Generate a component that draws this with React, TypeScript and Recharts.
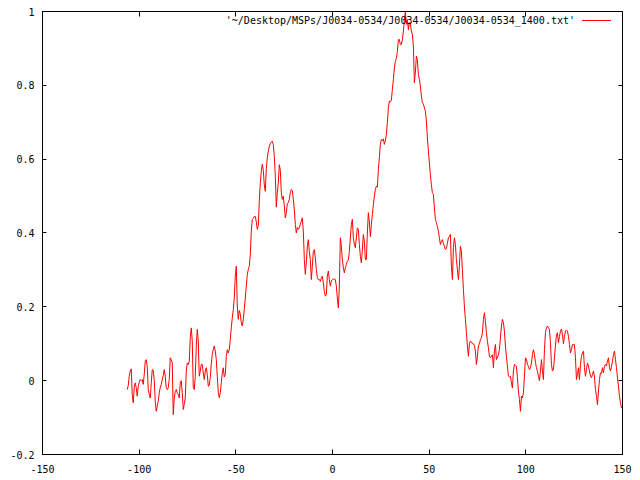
import React from 'react';
import { LineChart, Line, XAxis, YAxis, ReferenceLine } from 'recharts';

// tick values
const xTicks = [-150, -100, -50, 0, 50, 100, 150];
const yTicks = [-0.2, 0, 0.2, 0.4, 0.6, 0.8, 1];
const xDomain = [-150, 150];
const yDomain = [-0.2, 1];
const seriesName = "'~/Desktop/MSPs/J0034-0534/J0034-0534/J0034-0534_1400.txt'";
const seriesColor = '#ff0000';

// phase bin grid of the profile
const binStart = -106.17;
const binWidth = 0.5175;

// profile intensity, read left to right
const seg1 = [
  -0.024, -0.013, 0.012, 0.026, 0.032, -0.037, -0.06, -0.019, -0.006, -0.019,
  -0.042, -0.015, -0.004, 0.003, 0.0, 0.003, -0.01, 0.017, 0.053, 0.057,
  0.039, -0.024, -0.037, -0.047, -0.006, 0.03, 0.028, 0.0, -0.056, -0.083,
  -0.069, -0.056, -0.033, -0.019, -0.01, 0.003, 0.014, 0.03, 0.012, -0.019,
  -0.024, -0.019, 0.003, 0.062, 0.057, 0.048, -0.092, -0.047, -0.029, -0.024,
  -0.033, -0.037, -0.047, -0.006, 0.0, -0.033, -0.078, -0.064, -0.047, 0.026,
  0.048, 0.044, 0.053, 0.116, 0.143, 0.107, -0.019, -0.024, 0.012, 0.094,
  0.139, 0.107, 0.012, 0.026, 0.044, 0.044, 0.021, 0.003, 0.026, 0.035,
  0.017, -0.015, -0.013,
];
const seg2 = [
  0.009, 0.044, 0.071, 0.084, 0.094, 0.08, 0.057, 0.012, -0.033, -0.046,
  -0.033, -0.006, 0.021, 0.035, 0.01, 0.016, 0.066, 0.084, 0.075, 0.084,
  0.111, 0.143, 0.17, 0.193, 0.224, 0.283, 0.31, 0.202, 0.166, 0.19,
  0.18, 0.157, 0.148, 0.166, 0.193, 0.224, 0.256, 0.288, 0.301, 0.31,
  0.342, 0.405, 0.437, 0.44, 0.445, 0.445, 0.43, 0.41, 0.42, 0.486,
  0.536, 0.567, 0.586, 0.57, 0.53, 0.513, 0.575, 0.604, 0.622, 0.635,
  0.642, 0.646, 0.649, 0.64, 0.608, 0.554, 0.47,
];
const seg3 = [
  0.509, 0.536, 0.585, 0.57, 0.509, 0.491, 0.5, 0.473, 0.441, 0.455,
  0.48, 0.482, 0.491, 0.509, 0.518, 0.515, 0.491, 0.464, 0.423, 0.4,
  0.415, 0.41, 0.415, 0.423, 0.432, 0.441, 0.405, 0.328, 0.288, 0.319,
  0.364, 0.382, 0.35, 0.328, 0.274, 0.31, 0.35, 0.355, 0.332, 0.301,
  0.279, 0.274, 0.274, 0.269, 0.279, 0.283, 0.265, 0.242, 0.229, 0.233,
  0.283, 0.297, 0.274, 0.256, 0.27, 0.274, 0.275, 0.275, 0.274, 0.256,
  0.224, 0.197, 0.256, 0.387, 0.364, 0.328, 0.306, 0.292, 0.306,
];
const seg4 = [
  0.315, 0.324, 0.326, 0.35, 0.387, 0.423, 0.437, 0.387, 0.369, 0.36,
  0.387, 0.414, 0.41, 0.369, 0.337, 0.319, 0.354, 0.396, 0.378, 0.328,
  0.328, 0.4, 0.455, 0.43, 0.39, 0.423, 0.45, 0.477, 0.5, 0.518,
  0.527, 0.524, 0.572, 0.604, 0.64, 0.653, 0.65, 0.655, 0.64, 0.65,
  0.667, 0.699, 0.739, 0.757, 0.755, 0.76, 0.789, 0.816, 0.847, 0.865,
  0.873, 0.892, 0.924, 0.924, 0.91, 0.911, 0.924, 0.947, 0.978, 1.0,
  0.965, 0.978, 0.95, 0.97, 0.965, 0.947, 0.938, 0.906, 0.807, 0.836,
  0.879, 0.87, 0.829, 0.816, 0.798,
];
const seg5 = [
  0.771, 0.753, 0.75, 0.739, 0.73, 0.703, 0.658, 0.622, 0.59, 0.558,
  0.531, 0.509, 0.505, 0.468, 0.437, 0.428, 0.418, 0.405, 0.387, 0.369,
  0.377, 0.382, 0.372, 0.364, 0.355, 0.358, 0.372, 0.387, 0.391, 0.396,
  0.31, 0.274, 0.36, 0.387, 0.369, 0.328, 0.301, 0.274, 0.31, 0.364,
  0.35, 0.3, 0.247, 0.202, 0.166, 0.13, 0.094, 0.066, 0.1, 0.107,
  0.105, 0.1, 0.1, 0.095, 0.08, 0.044, 0.066, 0.094, 0.1, 0.111,
  0.116, 0.13, 0.166, 0.184, 0.16, 0.13, 0.107, 0.089, 0.066, 0.062,
  0.066, 0.07, 0.035, 0.08, 0.098,
];
const seg6 = [
  0.057, 0.062, 0.071, 0.084, 0.116, 0.148, 0.166, 0.157, 0.134, 0.094,
  0.066, 0.039, 0.012, 0.01, 0.012, -0.006, -0.02, 0.026, 0.044, 0.042,
  0.039, 0.008, -0.028, -0.051, -0.083, -0.042, -0.047, -0.033, 0.012, 0.062,
  0.058, 0.044, 0.039, 0.03, 0.035, 0.048, 0.071, 0.084, 0.071, 0.05,
  0.035, 0.026, 0.012, 0.0, 0.026, 0.057, 0.026, 0.003, 0.084, 0.13,
  0.143, 0.148, 0.143, 0.139, 0.103,
];
const seg7 = [
  0.044, 0.026, 0.03, 0.062, 0.094, 0.125, 0.13, 0.103, 0.12, 0.134,
  0.14, 0.125, 0.1, 0.12, 0.134, 0.137, 0.134, 0.12, 0.098, 0.075,
  0.084, 0.098, 0.098, 0.098, 0.062, 0.003, 0.017, 0.035, 0.003, 0.044,
  0.066, 0.075, 0.08, 0.035, 0.012, 0.03, 0.048, 0.04, 0.026, 0.012,
  0.008, 0.017, 0.026, 0.01, -0.024, -0.042, -0.065, -0.028, 0.003, 0.021,
  0.02, 0.035, 0.021, 0.039, 0.044, 0.04, 0.053, 0.062, 0.035, 0.026,
  0.039, 0.053, 0.071, 0.08, 0.057, 0.035, 0.008, -0.015, -0.042, -0.06,
  -0.074,
];

const profile = [...seg1, ...seg2, ...seg3, ...seg4, ...seg5, ...seg6, ...seg7];
const data = profile.map((v, i) => ({ phase: binStart + i * binWidth, intensity: v }));

const FONT = 'DejaVu Sans Mono';
const FS = 10;
const XT = 5;
const YT = 4;

// chart layout
const W = 640;
const H = 480;
const M = { top: 11.5, right: 17.5, bottom: 0, left: 0 };
const XAXIS_H = 25.5;
const YAXIS_W = 42.5;
const PLOT_TOP = M.top;
const PLOT_RIGHT = W - M.right;
const PLOT_W = W - M.right - YAXIS_W;
const PLOT_H = H - M.top - XAXIS_H;

const snap = (v: number) => Math.round(v - 0.5) + 0.5;

const BottomTick = (props: any) => {
  const { x, y, payload } = props;
  const sx = snap(x);
  return (
    <g>
      <line x1={sx} y1={y} x2={sx} y2={y - XT} stroke="#000" strokeWidth={1} />
      <line x1={sx} y1={PLOT_TOP} x2={sx} y2={PLOT_TOP + XT} stroke="#000" strokeWidth={1} />
      <text x={x} y={y + 18} textAnchor="middle" fontFamily={FONT} fontSize={FS} fill="#000">
        {String(payload.value)}
      </text>
    </g>
  );
};
const LeftTick = (props: any) => {
  const { x, y, payload } = props;
  const sy = snap(y);
  return (
    <g>
      <line x1={x} y1={sy} x2={x + YT} y2={sy} stroke="#000" strokeWidth={1} />
      <line x1={PLOT_RIGHT} y1={sy} x2={PLOT_RIGHT - YT} y2={sy} stroke="#000" strokeWidth={1} />
      <text x={x - 8} y={y + 4} textAnchor="end" fontFamily={FONT} fontSize={FS} fill="#000">
        {String(payload.value)}
      </text>
    </g>
  );
};

export default function App() {
  return (
    <div style={{ position: 'absolute', left: 0, top: 0, width: W, height: H, background: '#fff' }}>
      <LineChart width={W} height={H} data={data} margin={M}>
        <XAxis
          xAxisId="b"
          dataKey="phase"
          type="number"
          domain={xDomain}
          ticks={xTicks}
          interval={0}
          height={XAXIS_H}
          tickSize={0}
          tickMargin={0}
          tickLine={false}
          axisLine={false}
          tick={<BottomTick />}
          allowDataOverflow
        />
        <YAxis
          yAxisId="l"
          type="number"
          domain={yDomain}
          ticks={yTicks}
          interval={0}
          width={YAXIS_W}
          tickSize={0}
          tickMargin={0}
          tickLine={false}
          axisLine={false}
          tick={<LeftTick />}
          allowDataOverflow
        />
        <ReferenceLine xAxisId="b" yAxisId="l" y={yDomain[1]} stroke="#000" strokeWidth={1} ifOverflow="visible" />
        <ReferenceLine xAxisId="b" yAxisId="l" y={yDomain[0]} stroke="#000" strokeWidth={1} ifOverflow="visible" />
        <ReferenceLine xAxisId="b" yAxisId="l" x={xDomain[0]} stroke="#000" strokeWidth={1} ifOverflow="visible" />
        <ReferenceLine xAxisId="b" yAxisId="l" x={xDomain[1]} stroke="#000" strokeWidth={1} ifOverflow="visible" />
        <Line
          xAxisId="b"
          yAxisId="l"
          dataKey="intensity"
          name={seriesName}
          type="linear"
          stroke={seriesColor}
          strokeWidth={1}
          dot={false}
          activeDot={false}
          isAnimationActive={false}
        />
      </LineChart>
      <svg
        width={W}
        height={H}
        style={{ position: 'absolute', left: 0, top: 0, pointerEvents: 'none' }}
      >
        <rect x={YAXIS_W} y={PLOT_TOP} width={PLOT_W} height={PLOT_H} fill="none" stroke="#000" strokeWidth={1} />
        <text x={575} y={23.5} textAnchor="end" fontFamily={FONT} fontSize={FS} fill="#000">
          {seriesName}
        </text>
        <line x1={582} y1={20.5} x2={611} y2={20.5} stroke={seriesColor} strokeWidth={1} />
      </svg>
    </div>
  );
}
